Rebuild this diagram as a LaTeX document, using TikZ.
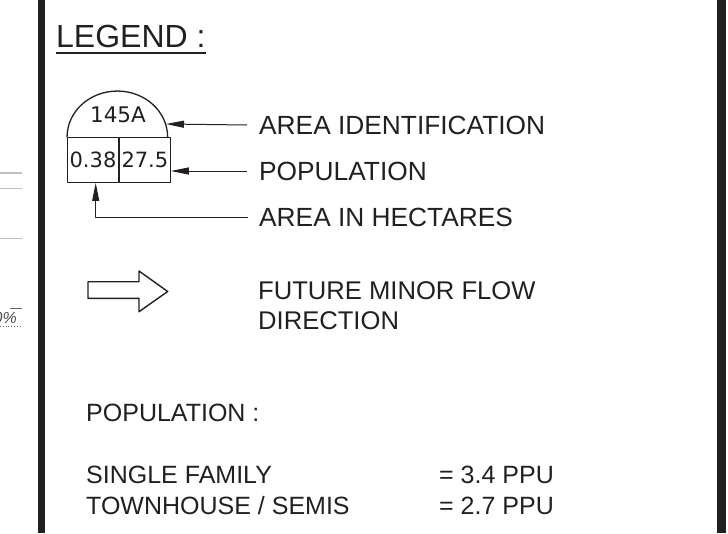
\documentclass[tikz,border=0pt]{standalone}
\usepackage{fontspec}
\setmainfont{Liberation Sans}
\newfontfamily\symfont{DejaVu Sans}
\usetikzlibrary{arrows.meta,positioning}
\definecolor{ink}{HTML}{231F20}
\tikzset{
  txt/.style={inner sep=0pt,text=ink,font=\fontsize{25}{30}\selectfont},
  lbl/.style={txt,anchor=west,font=\fontsize{26.3}{30}\selectfont},
  cell/.style={draw=ink,line width=1.3pt,minimum width=50.6pt,minimum height=44.6pt,
    inner sep=0pt,text=ink,font=\symfont\fontsize{21}{24}\selectfont},
  pointer/.style={draw=ink,line width=1pt,-{Triangle[length=18pt,width=7pt]}},
}
\begin{document}
\begin{tikzpicture}[x=1pt,y=-1pt,line join=round]
  \useasboundingbox (0,0) rectangle (728,533);
  % frame bars
  \fill[ink] (38,0) rectangle (45,533);
  \fill[ink] (717,0) rectangle (726,533);
  % cut-off part of the plan on the left
  \foreach \y/\w in {173/1.4,188/1,238/1}{
    \draw[black!25,line width=\w pt] (0,\y) -- (22,\y);
  }
  \node[inner sep=0pt,anchor=base east,text=black!70,font=\itshape\fontsize{16}{18}\selectfont] (pct) at (17,323) {0\%};
  \draw[black!60,line width=.6pt] (10,308) -- (22,308);
  \draw[black!60,dotted,line width=.8pt] (0,326) -- (22,326);
  % title
  \node[txt,anchor=base west,font=\fontsize{32}{36}\selectfont] (title) at (56,47) {LEGEND :};
  \draw[ink,line width=1.3pt] ([yshift=-6pt]title.base west) -- ([yshift=-6pt]title.base east);
  % area symbol
  \node[cell] (ha) at (93,160) {0.38};
  \node[cell,anchor=west] (pop) at (ha.east) {27.5};
  \draw[ink,line width=1.3pt] (ha.north west) arc[start angle=180,end angle=0,x radius=50.3pt,y radius=46pt];
  \node[txt,font=\symfont\fontsize{21.5}{24}\selectfont] (id) at (118,115) {145A};
  \coordinate (idtip) at (166,124);
  \node[lbl] (lblid) at (259,125) {AREA IDENTIFICATION};
  \node[lbl] (lblpop) at (259,171) {POPULATION};
  \node[lbl] (lblha) at (259,217) {AREA IN HECTARES};
  \draw[pointer] ([xshift=-12pt]lblid.west) -- (idtip);
  \draw[pointer] ([xshift=-12pt]lblpop.west) -- (lblpop.west -| pop.east);
  \draw[pointer] ([xshift=-11pt]lblha.west) -| ([xshift=2.7pt]ha.south);
  % flow arrow
  \draw[ink,line width=1.4pt] (88,281.7) -- (139,281.7) -- (139,271) -- (167.7,291.5)
    -- (139,311.7) -- (139,298.3) -- (88,298.3) -- cycle;
  \node[txt,anchor=base west,font=\fontsize{25.6}{30}\selectfont] (flow) at (258,299) {FUTURE MINOR FLOW};
  \node[txt,anchor=base west,font=\fontsize{25.6}{30}\selectfont] (flowb) at (258,329) {DIRECTION};
  % population
  \node[txt,anchor=base west] (poptitle) at (86,421) {POPULATION :};
  \node[txt,anchor=base west] (sf) at (86,483) {SINGLE FAMILY};
  \node[txt,anchor=base west] (th) at (86,514) {TOWNHOUSE / SEMIS};
  \node[txt,anchor=base west] (sfval) at (439,483) {= 3.4 PPU};
  \node[txt,anchor=base west] (thval) at (439,514) {= 2.7 PPU};
\end{tikzpicture}
\end{document}
